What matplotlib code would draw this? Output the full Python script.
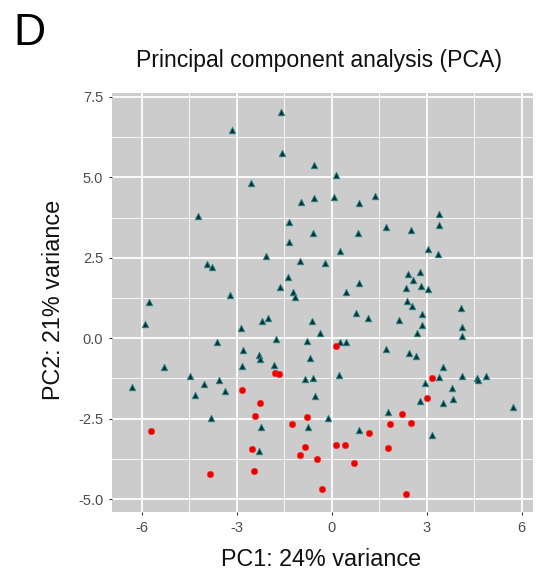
import numpy as np
import matplotlib
matplotlib.use("Agg")
import matplotlib.pyplot as plt
from matplotlib.ticker import MultipleLocator, FixedLocator

plt.rcParams["font.family"] = ["Liberation Sans", "DejaVu Sans"]
plt.rcParams["axes.unicode_minus"] = False

# group 1 (dark teal triangles)
tri_x = [-1.61, -3.14, -1.57, -0.57, -2.56, -0.57, -0.97, -4.21, -1.36, -0.59,
         -1.36, -2.08, -1.00, -3.95, -3.78, -1.39, -1.62, -1.23, -1.15, -3.21,
         -5.76, 0.14, 0.06, 0.88, 1.36, 3.39, 3.39, 1.72, 2.51, 0.84,
         0.27, 3.05, 3.36, -0.21, 2.40, 2.78, 2.57, 0.88, 0.46, 2.35,
         2.82, 3.05, 2.37, 2.55, 4.08, 0.76, 1.15, 2.86, 2.13, -0.63,
         2.86, 4.13, -0.38, 2.69, 4.12, 0.28, 0.44, 1.73, 2.43, 2.67,
         -0.69, 3.51, 3.40, 4.13, 4.59, 4.61, 4.87, 0.23, -0.59, 2.95,
         3.79, -0.52, 3.83, 2.79, 3.51, 5.72, -0.11, 1.78, 0.86, 3.17,
         -5.89, -2.86, -2.19, -2.01, -3.61, -1.77, -0.79, -2.79, -2.30, -2.26,
         -5.31, -2.82, -1.83, -4.49, -0.83, -3.57, -6.32, -4.04, -4.31, -3.37,
         -3.82, -2.22, -0.74, -2.29]
tri_y = [7.03, 6.46, 5.76, 5.37, 4.83, 4.36, 4.22, 3.81, 3.60, 3.27,
         2.99, 2.57, 2.40, 2.32, 2.20, 1.90, 1.58, 1.44, 1.28, 1.34,
         1.14, 5.07, 4.40, 4.19, 4.43, 3.87, 3.53, 3.45, 3.37, 3.27,
         2.71, 2.77, 2.63, 2.35, 1.99, 2.07, 1.80, 1.71, 1.45, 1.57,
         1.62, 1.54, 1.16, 1.01, 0.93, 0.79, 0.63, 0.75, 0.56, 0.53,
         0.40, 0.36, 0.16, 0.16, 0.08, -0.12, -0.12, -0.35, -0.45, -0.56,
         -0.62, -0.89, -1.19, -1.16, -1.23, -1.30, -1.16, -1.13, -1.25, -1.38,
         -1.56, -1.78, -1.89, -1.94, -2.01, -2.13, -2.47, -2.30, -2.85, -3.02,
         0.43, 0.31, 0.54, 0.62, -0.11, -0.03, -0.10, -0.36, -0.51, -0.65,
         -0.88, -0.86, -0.83, -1.17, -1.26, -1.31, -1.53, -1.43, -1.77, -1.65,
         -2.47, -2.75, -2.76, -3.51]

# group 2 (red circles)
red_x = [0.14, 3.16, 3.02, 2.23, 1.85, 2.51, 1.19, 0.15, 0.41, 1.78,
         -0.46, 0.71, -0.31, 2.36, -1.80, -1.67, -2.82, -2.26, -2.41, -0.79,
         -1.26, -5.72, -0.84, -2.52, -1.00, -2.45, -3.85]
red_y = [-0.24, -1.25, -1.85, -2.34, -2.66, -2.63, -2.96, -3.33, -3.31, -3.40,
         -3.74, -3.88, -4.69, -4.83, -1.07, -1.11, -1.61, -2.02, -2.41, -2.45,
         -2.68, -2.88, -3.38, -3.43, -3.62, -4.12, -4.22]

xticks = [-6, -3, 0, 3, 6]
xticklabels = ["-6", "-3", "0", "3", "6"]
yticks = [-5.0, -2.5, 0.0, 2.5, 5.0, 7.5]
yticklabels = ["-5.0", "-2.5", "0.0", "2.5", "5.0", "7.5"]

fig = plt.figure(figsize=[5.38, 5.82], dpi=100)
ax = fig.add_axes([0.2087, 0.1208, 0.7813, 0.7189])
ax.set_facecolor("#cccccc")
for s in ax.spines.values():
    s.set_visible(False)

ax.set_xlim(-6.93, 6.35)
ax.set_ylim(-5.39, 7.61)

ax.set_xticks(xticks)
ax.set_xticklabels(xticklabels)
ax.set_yticks(yticks)
ax.set_yticklabels(yticklabels)
ax.xaxis.set_minor_locator(FixedLocator([-4.5, -1.5, 1.5, 4.5]))
ax.yaxis.set_minor_locator(FixedLocator([-3.75, -1.25, 1.25, 3.75, 6.25]))

ax.tick_params(which="major", length=2.5, width=0.8, color="#333333",
               labelsize=10.5, labelcolor="#4d4d4d", pad=4)
ax.tick_params(which="minor", length=0)
ax.grid(True, which="major", color="white", linewidth=1.3)
ax.grid(True, which="minor", color="white", linewidth=0.6)
ax.set_axisbelow(True)

ax.scatter(tri_x, tri_y, marker="^", s=22, facecolor="#0b3236",
           edgecolor="#2a8a8a", linewidth=0.6, zorder=3)
ax.scatter(red_x, red_y, marker="o", s=22, facecolor="#ee0000",
           edgecolor="#ff3030", linewidth=0.4, zorder=3)

fig.text(319 / 538, 1 - 67 / 582, "Principal component analysis (PCA)",
         ha="center", va="baseline", fontsize=16.6, color="#111111")
fig.text(321 / 538, 1 - 566 / 582, "PC1: 24% variance",
         ha="center", va="baseline", fontsize=16.8, color="#111111")
fig.text(54 / 538, 1 - 300 / 582, "PC2: 21% variance", rotation=90,
         ha="center", va="center", fontsize=16.8, color="#111111")
fig.text(13 / 538, 1 - 45 / 582, "D", ha="left", va="baseline",
         fontsize=32, color="black")

fig.savefig("out.png", dpi=100)
